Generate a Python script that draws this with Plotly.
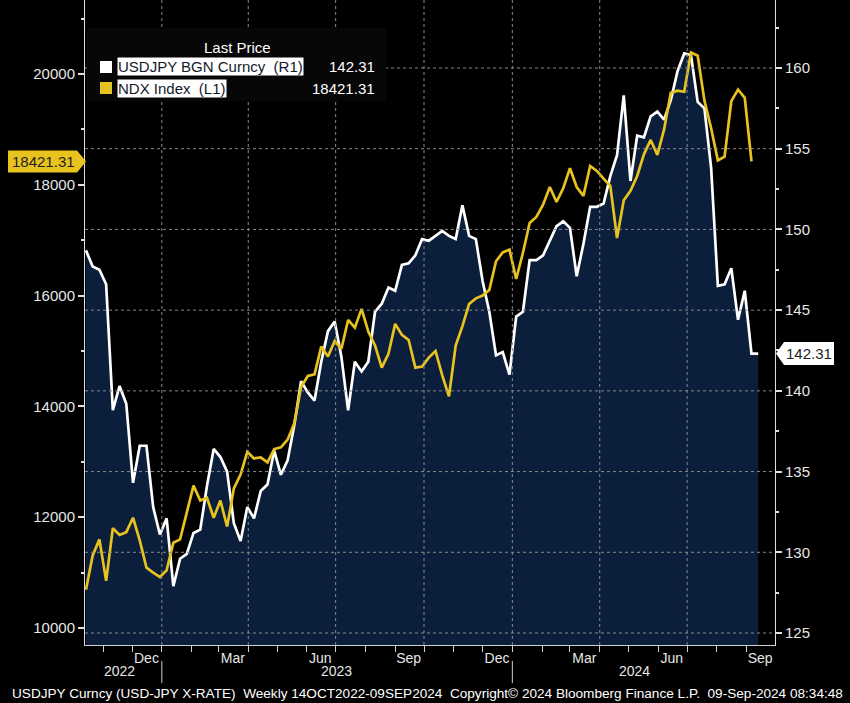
import plotly.graph_objects as go
import pandas as pd

# ---------------- data ----------------
# weekly points (week ending Friday); last USDJPY point is the live week
week_ending = list(pd.date_range("2022-10-14", "2024-09-13", freq="7D").strftime("%Y-%m-%d"))

usdjpy = [
    148.7, 147.7, 147.5, 146.6, 138.8, 140.3, 139.2, 134.3, 136.6, 136.6,
    132.8, 131.1, 132.1, 127.9, 129.6, 129.9, 131.2, 131.4, 134.1, 136.4,
    135.9, 135.0, 131.8, 130.7, 132.8, 132.1, 133.8, 134.2, 136.3, 134.8,
    135.7, 137.9, 140.6, 139.9, 139.4, 141.8, 143.7, 144.3, 142.1, 138.8,
    141.8, 141.2, 141.8, 144.9, 145.4, 146.4, 146.2, 147.8, 147.9, 148.4,
    149.4, 149.3, 149.6, 149.9, 149.6, 149.4, 151.5, 149.6, 149.4, 146.8,
    144.9, 142.2, 142.4, 141.0, 144.6, 144.9, 148.1, 148.1, 148.4, 149.3,
    150.2, 150.5, 150.1, 147.1, 149.1, 151.4, 151.4, 151.6, 153.3, 154.6,
    158.3, 153.0, 155.8, 155.7, 157.0, 157.3, 156.8, 158.0, 159.8, 160.9,
    160.8, 157.9, 157.5, 153.8, 146.5, 146.6, 147.6, 144.4, 146.2, 142.3,
    142.31,
]

ndx = [
    10690, 11310, 11600, 10850, 11800, 11680, 11730, 11990, 11580, 11090,
    11000, 10920, 11040, 11540, 11600, 12100, 12570, 12300, 12350, 11990,
    12300, 11830, 12520, 12770, 13180, 13060, 13080, 12990, 13230, 13260,
    13400, 13700, 14350, 14550, 14580, 15080, 14900, 15180, 15040, 15560,
    15420, 15760, 15350, 15100, 14700, 14950, 15490, 15290, 15200, 14700,
    14720, 14880, 15000, 14560, 14180, 15100, 15450, 15850, 15950, 16000,
    16100, 16620, 16780, 16830, 16300, 16770, 17310, 17420, 17640, 17960,
    17690, 17940, 18300, 17960, 17800, 18340, 18250, 18110, 17980, 17040,
    17720, 17890, 18160, 18550, 18810, 18540, 19000, 19660, 19700, 19680,
    20390, 20330, 19520, 19020, 18440, 18510, 19510, 19720, 19570, 18421.31,
]

usdjpy_name = "USDJPY BGN Curncy\u00a0\u00a0(R1)"
ndx_name = "NDX Index\u00a0\u00a0(L1)"
usdjpy_last = "142.31"
ndx_last = "18421.31"

left_ticks = [10000, 12000, 14000, 16000, 18000, 20000]
left_labels = ["10000", "12000", "14000", "16000", "18000", "20000"]
right_ticks = [125, 130, 135, 140, 145, 150, 155, 160]
right_labels = ["125", "130", "135", "140", "145", "150", "155", "160"]
month_label_dates = ["2022-12-16", "2023-03-16", "2023-06-15", "2023-09-15",
                     "2023-12-16", "2024-03-16", "2024-06-15", "2024-09-15"]
month_labels = ["Dec", "Mar", "Jun", "Sep", "Dec", "Mar", "Jun", "Sep"]
month_starts = list(pd.date_range("2022-11-01", "2024-09-01", freq="MS").strftime("%Y-%m-%d"))
quarter_lines = ["2023-01-01", "2023-04-01", "2023-07-01", "2023-10-01",
                 "2024-01-01", "2024-04-01", "2024-07-01"]
year_labels = ["2022", "2023", "2024"]
year_label_dates = ["2022-11-18", "2023-07-02", "2024-05-07"]
year_breaks = ["2023-01-01", "2024-01-01"]

footer = ("USDJPY Curncy (USD-JPY X-RATE)\u00a0\u00a0Weekly 14OCT2022-09SEP2024\u00a0\u00a0"
          "Copyright\u00a9 2024 Bloomberg Finance L.P.\u00a0\u00a009-Sep-2024 08:34:48")

# ---------------- style ----------------
FONT = "Liberation Sans, Arial, sans-serif"
NAVY = "#0b1f3d"
YELLOW = "#e8c21e"
GRID = "#8a8a8a"
W, H = 850, 703
ML, MR, MT, MB = 85, 75, 0, 58
PW, PH = W - ML - MR, H - MT - MB
JPY_RANGE = [124.257, 164.21]
NDX_RANGE = [9693, 21336]


def px(xp):
    return (xp - ML) / PW


def py(yp):
    return 1 - (yp - MT) / PH


fig = go.Figure()

# USDJPY on the primary (right-side) axis so the NDX overlay draws above its fill
fig.add_trace(go.Scatter(
    x=week_ending[:len(usdjpy)], y=usdjpy, yaxis="y", mode="lines",
    line=dict(color="white", width=2.7), fill="tozeroy", fillcolor=NAVY,
    name=usdjpy_name, hoverinfo="skip"))
fig.add_trace(go.Scatter(
    x=week_ending[:len(ndx)], y=ndx, yaxis="y2", mode="lines",
    line=dict(color=YELLOW, width=2.7), name=ndx_name, hoverinfo="skip"))

shapes = []
# grid lines (drawn above the area fill)
for t in right_ticks:
    shapes.append(dict(type="line", xref="paper", x0=0, x1=1, yref="y", y0=t, y1=t,
                       line=dict(color=GRID, width=1, dash="dot"), layer="above"))
for d in quarter_lines:
    shapes.append(dict(type="line", xref="x", x0=d, x1=d, yref="paper", y0=0, y1=1,
                       line=dict(color=GRID, width=1, dash="dot"), layer="above"))

# legend panel
shapes.append(dict(type="rect", xref="paper", yref="paper", x0=px(87), x1=px(386),
                   y0=py(101), y1=py(28), fillcolor="#070707", line=dict(width=0), layer="above"))
shapes.append(dict(type="rect", xref="paper", yref="paper", x0=px(100), x1=px(112),
                   y0=py(73), y1=py(61), fillcolor="white", line=dict(width=0), layer="above"))
shapes.append(dict(type="rect", xref="paper", yref="paper", x0=px(100), x1=px(112),
                   y0=py(94), y1=py(82), fillcolor=YELLOW, line=dict(width=0), layer="above"))

# last value tags
ndx_val = ndx[-1]
hl = 11 / (PH / (NDX_RANGE[1] - NDX_RANGE[0]))
shapes.append(dict(type="path", xref="paper", yref="y2",
                   path=(f"M {px(8)},{ndx_val - hl} L {px(77)},{ndx_val - hl} L {px(86)},{ndx_val} "
                         f"L {px(77)},{ndx_val + hl} L {px(8)},{ndx_val + hl} Z"),
                   fillcolor=YELLOW, line=dict(width=0), layer="above"))
jpy_val = usdjpy[-1]
hr = 11.5 / (PH / (JPY_RANGE[1] - JPY_RANGE[0]))
shapes.append(dict(type="path", xref="paper", yref="y",
                   path=(f"M {px(776)},{jpy_val} L {px(784)},{jpy_val - hr} L {px(834)},{jpy_val - hr} "
                         f"L {px(834)},{jpy_val + hr} L {px(784)},{jpy_val + hr} Z"),
                   fillcolor="white", line=dict(width=0), layer="above"))

# year separators
for d in year_breaks:
    shapes.append(dict(type="line", xref="x", x0=d, x1=d, yref="paper", y0=py(661), y1=py(683),
                       line=dict(color="#cfcfcf", width=1)))


def ann(text, x, y, xref="paper", yref="paper", xanchor="center", size=15,
        color="white", **kw):
    return dict(text=text, x=x, y=y, xref=xref, yref=yref, xanchor=xanchor,
                yanchor="middle", showarrow=False,
                font=dict(family=FONT, size=size, color=color), **kw)


annotations = [
    ann("Last Price", px(237), py(47)),
    ann(usdjpy_name, px(117), py(67), xanchor="left", color="#111a2c",
        bgcolor="white", borderpad=0),
    ann(ndx_name, px(117), py(88), xanchor="left", color="#111a2c",
        bgcolor="white", borderpad=0),
    ann(usdjpy_last, px(377), py(67), xanchor="right"),
    ann(ndx_last, px(377), py(88), xanchor="right"),
    ann(ndx_last, px(43), ndx_val, yref="y2", color="#1e1e1e"),
    ann(usdjpy_last, px(809), jpy_val, yref="y", color="#1e1e1e"),
    ann(footer, px(427), py(693), size=13.6),
]
for lab, d in zip(year_labels, year_label_dates):
    annotations.append(ann(lab, d, py(671), xref="x", size=14, color="#e6e6e6"))

fig.update_layout(
    width=W, height=H,
    margin=dict(l=ML, r=MR, t=MT, b=MB),
    paper_bgcolor="black", plot_bgcolor="black",
    showlegend=False,
    font=dict(family=FONT, color="#e6e6e6"),
    xaxis=dict(
        type="date", range=["2022-10-13", "2024-09-30 12:00"],
        tickmode="array", tickvals=month_label_dates, ticktext=month_labels,
        ticks="", showgrid=False, zeroline=False,
        showline=True, linecolor="#d0d0d0", linewidth=1,
        tickfont=dict(family=FONT, size=14, color="#e6e6e6"),
        minor=dict(tickmode="array", tickvals=month_starts, ticks="outside",
                   ticklen=6, tickcolor="#d0d0d0", tickwidth=1, showgrid=False),
    ),
    yaxis=dict(
        range=JPY_RANGE, side="right",
        tickmode="array", tickvals=right_ticks, ticktext=right_labels,
        ticks="outside", ticklen=6, tickwidth=2, tickcolor="#e0e0e0",
        showgrid=False, zeroline=False, showline=True, linecolor="#e0e0e0", linewidth=1,
        tickfont=dict(family=FONT, size=15, color="#e6e6e6"),
        minor=dict(dtick=2.5, tick0=125, ticks="outside", ticklen=3,
                   tickcolor="#e0e0e0", showgrid=False),
    ),
    yaxis2=dict(
        range=NDX_RANGE, overlaying="y", side="left",
        tickmode="array", tickvals=left_ticks, ticktext=left_labels,
        ticks="outside", ticklen=6, tickwidth=2, tickcolor="#e0e0e0",
        showgrid=False, zeroline=False, showline=True, linecolor="#e0e0e0", linewidth=1,
        tickfont=dict(family=FONT, size=15, color="#e6e6e6"),
        minor=dict(dtick=1000, tick0=10000, ticks="outside", ticklen=3,
                   tickcolor="#e0e0e0", showgrid=False),
    ),
    shapes=shapes,
    annotations=annotations,
)

fig.write_html(
    "out.html",
    config={"displayModeBar": False},
    post_script="document.body.style.margin='0px';document.body.style.overflow='hidden';",
)
